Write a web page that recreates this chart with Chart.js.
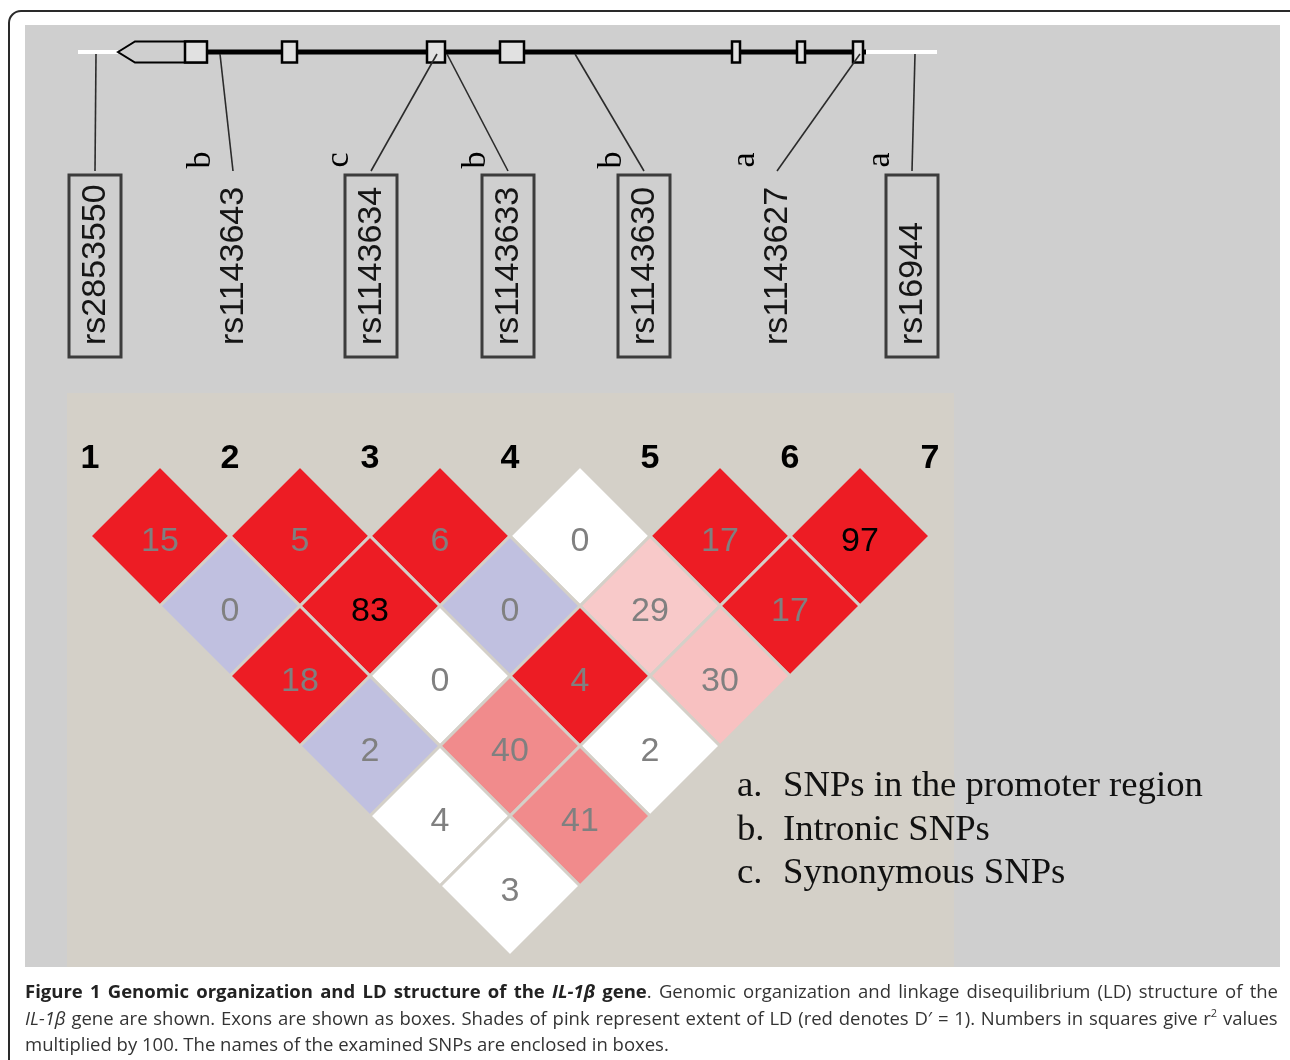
<!DOCTYPE html>
<html>
<head>
<meta charset="utf-8">
<script src="https://cdn.jsdelivr.net/npm/chart.js@4.4.1/dist/chart.umd.min.js"></script>
<style>
  body { margin: 0; width: 1290px; height: 1060px; background: #fff; position: relative; overflow: hidden; }
  #frame { position: absolute; left: 8px; top: 10px; width: 1300px; height: 1100px; border: 2px solid #2a2a2a; border-radius: 13px; }
  #panel { position: absolute; left: 25px; top: 25px; width: 1255px; height: 942px; background: #cfcfcf; }
  #ldpanel { position: absolute; left: 67px; top: 393px; width: 887px; height: 574px; background: #d4d0c8; }
  #chart { position: absolute; left: 0; top: 0; }
  #legend { position: absolute; left: 737px; top: 762px; font-family: "Liberation Serif", "Times New Roman", serif;
            font-size: 36.7px; line-height: 43.5px; color: #111; white-space: nowrap; }
  #legend .k { display: inline-block; width: 46px; }
  #caption { position: absolute; left: 25px; top: 978px; width: 1253px; font-family: "Open Sans", sans-serif;
             font-size: 18.5px; line-height: 26.5px; color: #333; }
  #caption .j { display: flex; justify-content: space-between; white-space: nowrap; }
  #caption .l { white-space: nowrap; }
  #caption .b { font-weight: bold; color: #222; }
  #caption .i { font-style: italic; }
  #caption .bi { font-weight: bold; font-style: italic; color: #222; }
  #caption .sup { font-size: 11px; vertical-align: 8px; line-height: 0; }
</style>
</head>
<body>
<div id="frame"></div>
<div id="panel"></div>
<div id="ldpanel"></div>
<canvas id="chart" width="1290" height="1060"></canvas>
<div id="legend">
  <div><span class="k">a.</span>SNPs in the promoter region</div>
  <div><span class="k">b.</span>Intronic SNPs</div>
  <div><span class="k">c.</span>Synonymous SNPs</div>
</div>
<div id="caption"></div>

<script>
// SNPs along the gene
const snpNames = ['rs2853550', 'rs1143643', 'rs1143634', 'rs1143633', 'rs1143630', 'rs1143627', 'rs16944'];
const snpTypes = ['', 'b', 'c', 'b', 'b', 'a', 'a'];
const snpBoxed = [true, false, true, true, true, false, true];
const snpNumbers = ['1', '2', '3', '4', '5', '6', '7'];

// gene model (kb from left end of drawn region)
const geneSpan = [0, 8.59];
const arrowKb = [0.40, 0.57];
const exonStart = [1.07, 2.04, 3.49, 4.22, 6.54, 7.19, 7.75];
const exonEnd = [1.29, 2.19, 3.67, 4.46, 6.62, 7.27, 7.85];
const snpKb = [0.18, 1.42, 3.59, 3.69, 4.97, 7.82, 8.37];
const labelKb = [0.17, 1.55, 2.93, 4.30, 5.66, 6.99, 8.34];

// LD pairs: r2 x 100 and shading class
const pairFirst  = [1, 2, 3, 4, 5, 6,  1, 2, 3, 4, 5,  1, 2, 3, 4,  1, 2, 3,  1, 2,  1];
const pairSecond = [2, 3, 4, 5, 6, 7,  3, 4, 5, 6, 7,  4, 5, 6, 7,  5, 6, 7,  6, 7,  7];
const r2Values   = [15, 5, 6, 0, 17, 97,  0, 83, 0, 29, 17,  18, 0, 4, 30,  2, 40, 2,  4, 41,  3];
const ldClass = [
  'strong', 'strong', 'strong', 'none', 'strong', 'strong',
  'lowLod', 'strong', 'lowLod', 'pinkLight', 'strong',
  'strong', 'none', 'strong', 'pinkLight2',
  'lowLod', 'pinkMid', 'none',
  'none', 'pinkMid',
  'none'
];

const ldColors = {
  strong: '#ed1c24', lowLod: '#c0c0e0', none: '#ffffff',
  pinkLight: '#f8c9c9', pinkLight2: '#f8c1c1', pinkMid: '#f18b8c'
};

const cells = pairFirst.map((a, i) => ({ x: (a + pairSecond[i]) / 2, y: pairSecond[i] - a }));

function halfCell(chart) {
  const s = chart.scales.x;
  return s.getPixelForValue(1.5) - s.getPixelForValue(1);
}

const genePlugin = {
  id: 'geneModel',
  beforeDatasetsDraw(chart) {
    const ctx = chart.ctx;
    const g = v => chart.scales.gx.getPixelForValue(v);
    const x = chart.scales.x, y = chart.scales.y;
    const gy = 52, hh = 10.5;
    const last = exonEnd.length - 1;
    ctx.save();

    // flanking region
    ctx.strokeStyle = '#ffffff';
    ctx.lineWidth = 4;
    ctx.beginPath();
    ctx.moveTo(g(geneSpan[0]), gy); ctx.lineTo(g(arrowKb[0]), gy);
    ctx.moveTo(g(exonEnd[last]), gy); ctx.lineTo(g(geneSpan[1]), gy);
    ctx.stroke();

    // introns
    ctx.strokeStyle = '#000';
    ctx.lineWidth = 5;
    ctx.beginPath();
    ctx.moveTo(g(exonEnd[0]), gy); ctx.lineTo(g(exonEnd[last]) + 3, gy);
    ctx.stroke();

    // direction arrow
    ctx.lineWidth = 2;
    ctx.fillStyle = '#cfcfcf';
    ctx.beginPath();
    ctx.moveTo(g(arrowKb[0]), gy);
    ctx.lineTo(g(arrowKb[1]), gy - hh);
    ctx.lineTo(g(exonEnd[0]), gy - hh);
    ctx.lineTo(g(exonEnd[0]), gy + hh);
    ctx.lineTo(g(arrowKb[1]), gy + hh);
    ctx.closePath();
    ctx.fill();
    ctx.stroke();

    // exons
    ctx.fillStyle = '#e1e1e1';
    ctx.lineWidth = 2.5;
    exonStart.forEach((s, i) => {
      const x0 = g(s), x1 = g(exonEnd[i]);
      ctx.fillRect(x0, gy - hh, x1 - x0, 2 * hh);
      ctx.strokeRect(x0, gy - hh, x1 - x0, 2 * hh);
    });

    // connectors to labels
    ctx.strokeStyle = '#2b2b2b';
    ctx.lineWidth = 1.6;
    snpKb.forEach((k, i) => {
      ctx.beginPath();
      ctx.moveTo(g(k), gy + 2);
      ctx.lineTo(g(labelKb[i]), 171);
      ctx.stroke();
    });

    // SNP names
    snpNames.forEach((name, i) => {
      const lx = g(labelKb[i]);
      if (snpBoxed[i]) {
        ctx.strokeStyle = '#3c3c3c';
        ctx.lineWidth = 3;
        ctx.strokeRect(lx - 26, 175, 52, 182);
      }
      ctx.save();
      ctx.translate(lx + 1, 345);
      ctx.rotate(-Math.PI / 2);
      ctx.fillStyle = '#151515';
      ctx.font = '34px "Liberation Sans", Arial, sans-serif';
      ctx.textAlign = 'left';
      ctx.textBaseline = 'middle';
      ctx.fillText(name, 0, 0);
      ctx.restore();

      if (snpTypes[i]) {
        ctx.save();
        ctx.translate(lx - 23, 160);
        ctx.rotate(-Math.PI / 2);
        ctx.fillStyle = '#000';
        ctx.font = '34px "Liberation Serif", "Times New Roman", serif';
        ctx.textAlign = 'center';
        ctx.textBaseline = 'alphabetic';
        ctx.fillText(snpTypes[i], 0, 0);
        ctx.restore();
      }
    });

    // marker numbers above the LD triangle
    ctx.fillStyle = '#000';
    ctx.font = 'bold 34px "Liberation Sans", Arial, sans-serif';
    ctx.textAlign = 'center';
    ctx.textBaseline = 'alphabetic';
    snpNumbers.forEach((n, i) => {
      ctx.fillText(n, x.getPixelForValue(i + 1), y.getPixelForValue(0.03));
    });
    ctx.restore();
  }
};

const cellTextPlugin = {
  id: 'cellText',
  afterDatasetsDraw(chart) {
    const ctx = chart.ctx;
    const meta = chart.getDatasetMeta(0);
    ctx.save();
    ctx.font = '34px "Liberation Sans", Arial, sans-serif';
    ctx.textAlign = 'center';
    ctx.textBaseline = 'alphabetic';
    meta.data.forEach((pt, i) => {
      ctx.fillStyle = r2Values[i] >= 80 ? '#000' : '#808080';
      ctx.fillText(String(r2Values[i]), pt.x, pt.y + 15);
    });
    ctx.restore();
  }
};

new Chart(document.getElementById('chart'), {
  type: 'scatter',
  data: {
    datasets: [{
      data: cells,
      pointStyle: 'rectRot',
      pointRadius: c => halfCell(c.chart),
      pointHoverRadius: c => halfCell(c.chart),
      pointBackgroundColor: ldClass.map(c => ldColors[c]),
      pointBorderColor: '#d4d0c8',
      pointBorderWidth: 3,
      pointHoverBorderWidth: 3
    }]
  },
  options: {
    responsive: false,
    animation: false,
    events: [],
    layout: { padding: 0 },
    plugins: { legend: { display: false }, tooltip: { enabled: false } },
    scales: {
      x: { type: 'linear', bounds: 'data', min: 1 - 90 / 140, max: 1 - 90 / 140 + 1290 / 140, display: false },
      y: { type: 'linear', bounds: 'data', reverse: true, min: 1 - 536 / 70, max: 1 - 536 / 70 + 1060 / 70, display: false },
      gx: { type: 'linear', axis: 'x', bounds: 'data', min: -0.78, max: 12.12, display: false }
    }
  },
  plugins: [genePlugin, cellTextPlugin]
});

// caption, first two lines justified
const captionLines = [
  [['Figure 1 Genomic organization and LD structure of the ', 'b'], ['IL-1β', 'bi'], [' gene', 'b'],
   ['. Genomic organization and linkage disequilibrium (LD) structure of the', '']],
  [['IL-1β', 'i'], [' gene are shown. Exons are shown as boxes. Shades of pink represent extent of LD (red denotes D′ = 1). Numbers in squares give r', ''],
   ['2', 'sup'], [' values', '']],
  [['multiplied by 100. The names of the examined SNPs are enclosed in boxes.', '']]
];

const cap = document.getElementById('caption');
captionLines.forEach((segs, li) => {
  const row = document.createElement('div');
  if (li < 2) {
    row.className = 'j';
    const words = [[]];
    segs.forEach(([text, style]) => {
      text.split(' ').forEach((p, k) => {
        if (k > 0) words.push([]);
        if (p) words[words.length - 1].push([p, style]);
      });
    });
    words.filter(w => w.length).forEach(w => {
      const ws = document.createElement('span');
      w.forEach(([p, style]) => {
        const s = document.createElement('span');
        if (style) s.className = style;
        s.textContent = p;
        ws.appendChild(s);
      });
      row.appendChild(ws);
    });
  } else {
    row.className = 'l';
    row.textContent = segs[0][0];
  }
  cap.appendChild(row);
});
</script>
</body>
</html>
